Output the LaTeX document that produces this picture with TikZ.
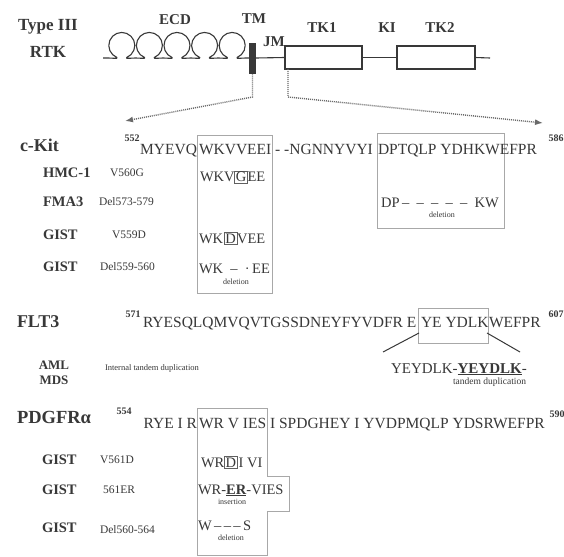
\documentclass[tikz,border=0pt]{standalone}
\usepackage{fontspec}
\setmainfont{Liberation Serif}
\usetikzlibrary{arrows.meta}
\definecolor{ink}{HTML}{383838}
\definecolor{frame}{HTML}{A8A8A8}
\newcommand{\myfs}[1]{\fontsize{#1}{#1}\selectfont}
\begin{document}
\begin{tikzpicture}[x=1pt,y=-1pt,
  every node/.style={inner sep=0pt, outer sep=0pt, text=ink},
  big/.style={font=\myfs{18}\bfseries, anchor=west},
  dom/.style={font=\myfs{15}\bfseries},
  dis/.style={font=\myfs{14.5}\bfseries, anchor=west},
  mut/.style={font=\myfs{11.5}, anchor=west},
  seqt/.style={font=\myfs{15.5}},
  num/.style={font=\myfs{10}\bfseries},
  msq/.style={font=\myfs{14.5}},
  tinyt/.style={font=\myfs{8}},
  frm/.style={draw=frame, line width=0.8pt},
  mbox/.style={draw=ink!80, line width=0.7pt, inner sep=1.2pt, font=\myfs{14.5}, anchor=base west},
  dotarr/.style={draw=ink!75, line width=1.4pt, dash pattern=on 1pt off 1pt},
  bb/.style={draw=ink, line width=1.1pt},
]
\useasboundingbox (0,0) rectangle (564,556);
\fill[white] (0,0) rectangle (564,556);

% ---------------- Type III RTK ----------------
\node[font=\myfs{17}\bfseries] (t3) at (48,27) {Type III};
\node[font=\myfs{17}\bfseries] (rtk) at (48,52) {RTK};
\node[dom] (ecd) at (175,20) {ECD};
\node[dom] (tml) at (254,19) {TM};
\node[dom] (jml) at (274,42) {JM};
\node[dom] (tk1l) at (322,28) {TK1};
\node[dom] (kil) at (387,28) {KI};
\node[dom] (tk2l) at (440,28) {TK2};

\coordinate (bstart) at (103,58);
\coordinate (bend) at (490,58);
\draw[bb, line join=round]
  (bstart) -- (108,58)
  \foreach \c in {121.8,149.4,177,204.6,232.2} {
    .. controls (\c-10,58) and (\c-3,59) .. (\c-4.87,57.5)
    arc[start angle=112, end angle=428, radius=13]
    .. controls (\c+3,59) and (\c+10,58) .. (\c+13.8,58)
  } -- (249,58);
\node[fill=ink, minimum width=7pt, minimum height=31pt] (tm) at (252.5,59) {};
\node[draw=ink, fill=white, line width=1.1pt, minimum width=77pt, minimum height=23pt] (tk1) at (323.5,57.5) {};
\node[draw=ink, fill=white, line width=1.1pt, minimum width=78pt, minimum height=23pt] (tk2) at (436,57.5) {};
\draw[bb] (tm.east |- 0,58) -- (tk1.west);
\draw[bb] (tk1.east) -- (tk2.west);
\draw[bb] (tk2.east) -- (bend);

\coordinate (lk) at (252.5,97);
\coordinate (lt) at (125,121);
\coordinate (rs) at (288,69);
\coordinate (rk) at (288,97);
\coordinate (rt) at (543,123);
\draw[dotarr, -{Latex[length=8pt,width=6pt]}] (tm.south) -- (lk) -- (lt);
\draw[dotarr, -{Latex[length=8pt,width=6pt]}] (rs) -- (rk) -- (rt);

% ---------------- c-Kit ----------------
\draw[frm] (197,135) rectangle (272,293);
\draw[frm] (377,133) rectangle (504,228);
\node[big] (ckit) at (20,145) {c-Kit};
\node[num] (n552) at (132,138) {552};
\node[seqt, anchor=base east] (ck1) at (197,155) {MYEVQ};
\node[seqt, anchor=base west] (ck2) at (199,155) {WKVVEEI - -NGNNYVYI};
\node[seqt, anchor=base west] (ck3) at (378,155) {DPTQLP YDHKWEFPR};
\node[num] (n586) at (556,138) {586};

\node[dis] (hmc) at (43,173) {HMC-1};
\node[mut] (v560) at (110,173) {V560G};
\node[dis] (fma) at (43,202) {FMA3};
\node[mut] (d573) at (99,202) {Del573-579};
\node[dis] (gist1) at (43,235) {GIST};
\node[mut] (v559) at (112,235) {V559D};
\node[dis] (gist2) at (43,267) {GIST};
\node[mut] (d559) at (100,267) {Del559-560};

\node[msq, anchor=base west] (r1a) at (200,182) {WKV};
\node[mbox] (r1g) at (r1a.base east) {G};
\node[msq, anchor=base west] (r1b) at (r1g.base east) {EE};

\node[msq, anchor=base west] (r2a) at (199,243) {WK};
\node[mbox, xshift=1pt] (r2d) at (r2a.base east) {D};
\node[msq, anchor=base west] (r2b) at (r2d.base east) {VEE};

\node[msq, anchor=base west] (r3a) at (199,273) {WK\enspace–\enspace·\,EE};
\node[tinyt] (r3d) at (236,282) {deletion};

\node[msq, anchor=base] (r4a) at (440,207) {DP\,–\enspace–\enspace–\enspace–\enspace–\enspace KW};
\node[tinyt] (r4d) at (442,215) {deletion};

% ---------------- FLT3 ----------------
\node[big] (flt3) at (17,322) {FLT3};
\node[num] (n571) at (133,314) {571};
\node[seqt, anchor=base west] (f1) at (143,327) {RYESQLQMVQVTGSSDNEYFYVDFR E};
\node[frm, minimum width=70pt, minimum height=35pt] (fbox) at (453,325.5) {};
\node[seqt, anchor=base west] (f2) at (421,327) {YE YDLK};
\node[seqt, anchor=base west] (f3) at (489,327) {WEFPR};
\node[num] (n607) at (556,314) {607};
\coordinate (fl0) at (419,333);
\coordinate (fl1) at (383,352);
\coordinate (fr0) at (487,333);
\coordinate (fr1) at (520,352);
\draw[ink, line width=1pt] (fl0) -- (fl1);
\draw[ink, line width=1pt] (fr0) -- (fr1);

\node[font=\myfs{13}\bfseries] (aml) at (54,365) {AML};
\node[font=\myfs{13}\bfseries] (mds) at (54,380) {MDS};
\node[font=\myfs{8.5}, anchor=west] (itd) at (105,368) {Internal tandem duplication};
\node[font=\myfs{15}, anchor=base west] (dup) at (391,373) {YEYDLK-\underline{\textbf{YEYDLK}}-};
\node[font=\myfs{9.5}, anchor=west] (tdl) at (453,382) {tandem duplication};

% ---------------- PDGFRa ----------------
\draw[frm] (197,408) -- (267,408) -- (267,476) -- (289,476) -- (289,511)
  -- (267,511) -- (267,555) -- (197,555) -- cycle;
\node[big, font=\myfs{18.5}\bfseries] (pdg) at (17,417) {PDGFRα};
\node[num] (n554) at (124,411) {554};
\node[seqt, anchor=base east] (p1) at (197,428) {RYE I R};
\node[seqt, anchor=base west] (p2) at (199,428) {WR V IES I SPDGHEY I YVDPMQLP YDSRWEFPR};
\node[num] (n590) at (557,414) {590};

\node[dis] (g3) at (42,460) {GIST};
\node[mut] (v561) at (100,460) {V561D};
\node[dis] (g4) at (42,490) {GIST};
\node[mut] (e561) at (103,490) {561ER};
\node[dis] (g5) at (42,528) {GIST};
\node[mut] (d560) at (100,530) {Del560-564};

\node[msq, anchor=base west] (q1a) at (201,467) {WR};
\node[mbox] (q1d) at (q1a.base east) {D};
\node[msq, anchor=base west] (q1b) at ([xshift=1.5pt]q1d.base east) {I VI};

\node[msq, anchor=base west] (q2a) at (198,494) {WR-\underline{\textbf{ER}}-VIES};
\node[tinyt] (q2i) at (232,502) {insertion};

\node[msq, anchor=base west] (q3a) at (198,530) {W\,–\,–\,–\,S};
\node[tinyt] (q3d) at (231,538) {deletion};
\end{tikzpicture}
\end{document}
